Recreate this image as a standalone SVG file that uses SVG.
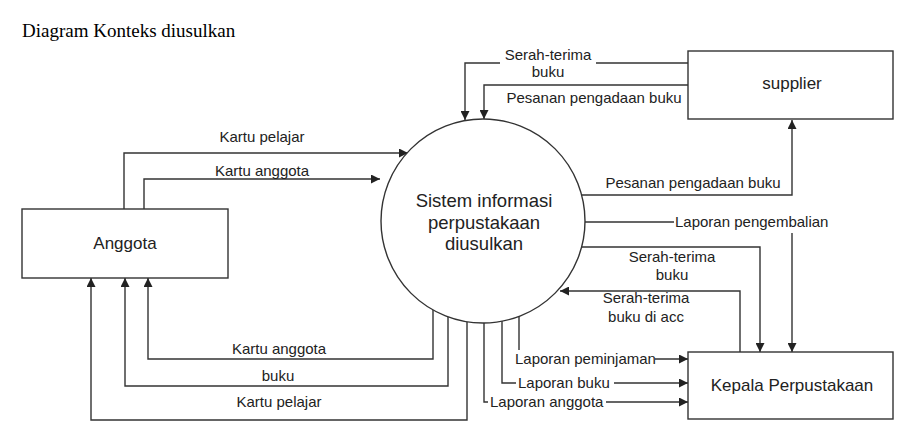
<svg xmlns="http://www.w3.org/2000/svg" width="923" height="444" viewBox="0 0 923 444">
<style>
.box{fill:#fff;stroke:#333;stroke-width:1.4}
.ln{fill:none;stroke:#333;stroke-width:1.4}
.t{font-family:"Liberation Sans",Arial,sans-serif;font-size:15px;fill:#222}
.bt{font-family:"Liberation Sans",Arial,sans-serif;font-size:17px;fill:#222;text-anchor:middle}
.ct{font-family:"Liberation Sans",Arial,sans-serif;font-size:18.5px;fill:#222;text-anchor:middle}
.m{text-anchor:middle}
.bg{fill:#fff}
</style>
<defs>
<marker id="arr" viewBox="0 0 10 10" refX="10" refY="5" markerWidth="9" markerHeight="9" markerUnits="userSpaceOnUse" orient="auto">
<path d="M0,0 L10,5 L0,10 z" fill="#222"/>
</marker>
</defs>
<rect width="923" height="444" fill="#fff"/>
<text x="22" y="37" font-family="Liberation Serif,'Times New Roman',serif" font-size="19px" fill="#000">Diagram Konteks diusulkan</text>

<g id="connectors">
<path class="ln" marker-end="url(#arr)" d="M124,209 V153 H408"/>
<path class="ln" marker-end="url(#arr)" d="M144,209 V179 H380"/>
<path class="ln" marker-end="url(#arr)" d="M433,310 V359 H148 V278"/>
<path class="ln" marker-end="url(#arr)" d="M448,317 V386 H125 V278"/>
<path class="ln" marker-end="url(#arr)" d="M467,322 V420 H91 V278"/>
<path class="ln" marker-end="url(#arr)" d="M688,63 H465 V120"/>
<path class="ln" marker-end="url(#arr)" d="M688,85 H484 V119"/>
<path class="ln" marker-end="url(#arr)" d="M581,195 H792 V120"/>
<path class="ln" marker-end="url(#arr)" d="M585,222 H792 V352"/>
<path class="ln" marker-end="url(#arr)" d="M581,247 H760 V352"/>
<path class="ln" marker-end="url(#arr)" d="M740,352 V291 H560"/>
<path class="ln" marker-end="url(#arr)" d="M519,316 V359 H688"/>
<path class="ln" marker-end="url(#arr)" d="M502,319 V383 H688"/>
<path class="ln" marker-end="url(#arr)" d="M484,323 V402 H688"/>

<rect class="bg" x="500" y="45" width="96" height="36"/>
<rect class="bg" x="674" y="213" width="160" height="20"/>
<rect class="bg" x="513" y="350" width="142" height="18"/>
<rect class="bg" x="516" y="374" width="98" height="18"/>
<rect class="bg" x="488" y="393" width="118" height="18"/>

<text class="t m" x="262" y="142">Kartu pelajar</text>
<text class="t m" x="262" y="176">Kartu anggota</text>
<text class="t m" x="279" y="354">Kartu anggota</text>
<text class="t m" x="278" y="381">buku</text>
<text class="t m" x="279" y="407">Kartu pelajar</text>
<text class="t m" x="548" y="60">Serah-terima</text>
<text class="t m" x="548" y="77">buku</text>
<text class="t m" x="594" y="103">Pesanan pengadaan buku</text>
<text class="t m" x="693" y="188">Pesanan pengadaan buku</text>
<text class="t" x="675" y="227">Laporan pengembalian</text>
<text class="t m" x="672" y="262">Serah-terima</text>
<text class="t m" x="672" y="280">buku</text>
<text class="t m" x="646" y="303">Serah-terima</text>
<text class="t m" x="646" y="322">buku di acc</text>
<text class="t" x="515" y="364">Laporan peminjaman</text>
<text class="t" x="518" y="388">Laporan buku</text>
<text class="t" x="490" y="407">Laporan anggota</text>
</g>

<g id="anggota">
<rect class="box" x="22" y="209" width="206" height="69"/>
<text class="bt" x="125" y="249">Anggota</text>
</g>
<g id="sistem">
<circle class="box" cx="483" cy="221" r="102"/>
<text class="ct" x="484" y="207">Sistem informasi</text>
<text class="ct" x="484" y="229">perpustakaan</text>
<text class="ct" x="484" y="250">diusulkan</text>
</g>
<g id="supplier">
<rect class="box" x="688" y="51" width="205" height="68"/>
<text class="bt" x="792" y="89">supplier</text>
</g>
<g id="kepala">
<rect class="box" x="688" y="352" width="205" height="67"/>
<text class="bt" x="792" y="391">Kepala Perpustakaan</text>
</g>
</svg>
